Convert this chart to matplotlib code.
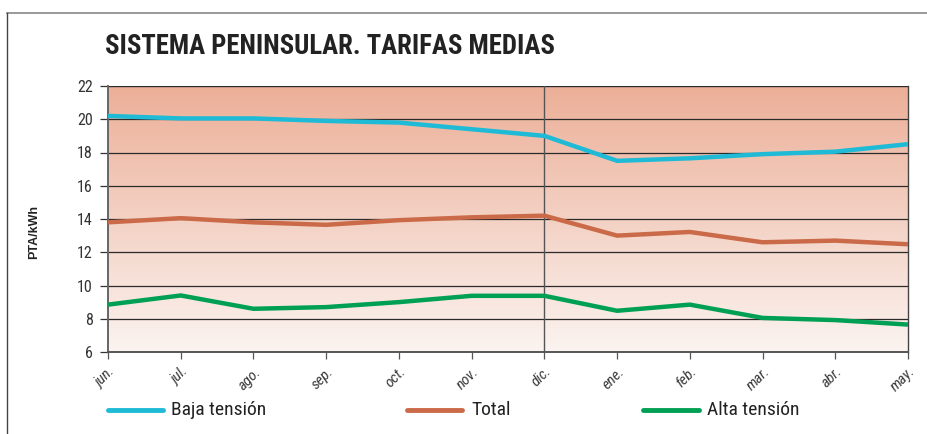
import numpy as np
import matplotlib
matplotlib.use("Agg")
import matplotlib.pyplot as plt
from matplotlib.lines import Line2D

months = ["jun.", "jul.", "ago.", "sep.", "oct.", "nov.", "dic.", "ene.", "feb.", "mar.", "abr.", "may."]
baja = [20.2, 20.05, 20.05, 19.9, 19.8, 19.4, 19.0, 17.5, 17.65, 17.9, 18.05, 18.5]
total = [13.8, 14.05, 13.8, 13.65, 13.93, 14.1, 14.2, 13.0, 13.22, 12.6, 12.7, 12.48]
alta = [8.85, 9.4, 8.6, 8.7, 9.0, 9.38, 9.38, 8.48, 8.85, 8.05, 7.92, 7.65]
yticks = [6, 8, 10, 12, 14, 16, 18, 20, 22]

plt.rcParams["font.family"] = ["Roboto Condensed", "Liberation Sans", "DejaVu Sans"]

W, H = 927, 434
fig = plt.figure(figsize=(W / 100, H / 100), dpi=100)
ax = fig.add_axes([108 / W, (H - 352) / H, 800 / W, 266 / H])

x = np.arange(len(months))
# gradient background
top = np.array([0xEC, 0xAF, 0x98]) / 255
bot = np.array([0xFB, 0xF4, 0xF0]) / 255
t = np.linspace(0, 1, 256)[:, None]
grad = (top * (1 - t) + bot * t)[:, None, :]
ax.imshow(grad, extent=[0, len(months) - 1, 6, 22], origin="upper", aspect="auto",
          zorder=0, interpolation="bilinear")

for yv in yticks[1:-1]:
    ax.axhline(yv, color="#2a2a2a", lw=0.9, zorder=1)
ax.axhline(22, color="#2a2a2a", lw=1.0, zorder=1)
ax.axvline(6, color="#555555", lw=1.0, zorder=1)

ax.plot(x, baja, color="#1EBAD6", lw=3.2, zorder=3, solid_capstyle="butt")
ax.plot(x, total, color="#CB6A48", lw=3.2, zorder=3, solid_capstyle="butt")
ax.plot(x, alta, color="#00A054", lw=3.2, zorder=3, solid_capstyle="butt")

ax.set_xlim(0, len(months) - 1)
ax.set_ylim(6, 22)
ax.set_yticks(yticks)
ax.set_xticks(x)
ax.set_xticklabels(months, rotation=45, ha="right", va="top", rotation_mode="anchor",
                   fontsize=11, color="#333333", fontstyle="italic")
ax.tick_params(axis="y", labelsize=11.5, colors="#333333", length=6, width=0.9, pad=5)
ax.tick_params(axis="x", length=5, width=0.9, pad=4, colors="#555555")
for lab in ax.get_xticklabels():
    lab.set_color("#3a3a3a")
ax.spines["top"].set_visible(False)
ax.spines["right"].set_color("#444444")
ax.spines["right"].set_linewidth(1.0)
ax.spines["left"].set_color("#666666")
ax.spines["left"].set_linewidth(1.4)
ax.spines["bottom"].set_color("#555555")
ax.spines["bottom"].set_linewidth(1.4)

ax.set_ylabel("PTA/kWh", fontsize=9, fontweight="bold", color="#222222",
              family=["Liberation Sans", "DejaVu Sans"], labelpad=0)
ax.yaxis.set_label_coords(-68 / 800, 0.45)

fig.text(105 / W, 1 - 47 / H, "SISTEMA PENINSULAR. TARIFAS MEDIAS", fontsize=19.3,
         fontweight="bold", color="#222222", ha="left", va="center")

# frame lines
fig.add_artist(Line2D([7 / W, 1.0], [1 - 13 / H, 1 - 13 / H], transform=fig.transFigure,
                      color="#888888", lw=1.2))
fig.add_artist(Line2D([7 / W, 7 / W], [0, 1 - 13 / H], transform=fig.transFigure,
                      color="#444444", lw=1.0))

# legend
ly = 1 - 410 / H
items = [(108, 163, 171, "Baja tensión", "#1EBAD6"),
         (407, 462, 471, "Total", "#CB6A48"),
         (643, 699, 707, "Alta tensión", "#00A054")]
for x0, x1, xt, label, c in items:
    fig.add_artist(Line2D([x0 / W, x1 / W], [ly, ly], transform=fig.transFigure,
                          color=c, lw=3.5, solid_capstyle="round"))
    fig.text(xt / W, ly, label, fontsize=14, color="#222222", ha="left", va="center")

fig.savefig("out.png", dpi=100)
